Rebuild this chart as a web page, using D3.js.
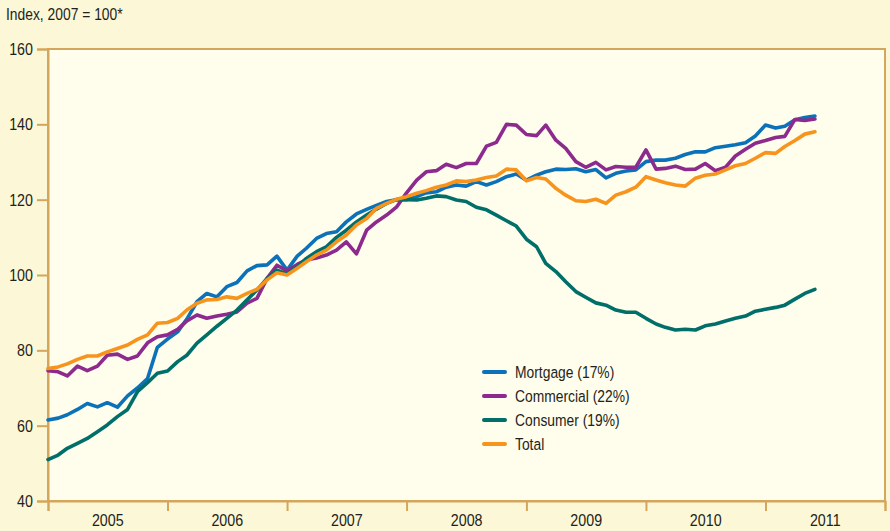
<!DOCTYPE html>
<html>
<head>
<meta charset="utf-8">
<script src="https://cdn.jsdelivr.net/npm/d3@7/dist/d3.min.js"></script>
<style>
  body { margin: 0; background: #fcf7d6; }
  svg { display: block; }
  text { font-family: "Liberation Sans", Arial, sans-serif; fill: #231f20; }
</style>
</head>
<body>
<div id="chart"></div>
<script>
// monthly index values, Jan 2005 .. Jun 2011 (2007 = 100)
var mortgage = [61.5,62.0,62.9,64.3,65.9,65.0,66.1,64.9,67.9,70.0,
  72.5,80.8,83.0,84.9,88.3,92.9,95.1,94.2,96.9,98.0,
  101.1,102.5,102.7,105.0,101.3,105.0,107.1,109.7,111.0,111.5,
  114.1,116.2,117.4,118.5,119.5,120.0,120.0,120.8,121.8,122.1,
  123.3,123.9,123.6,124.8,123.9,124.8,126.1,126.8,125.2,126.5,
  127.4,128.1,128.0,128.2,127.4,128.0,125.8,127.0,127.6,127.9,
  130.1,130.5,130.5,131.0,132.0,132.7,132.7,133.8,134.2,134.6,
  135.1,136.9,139.8,139.0,139.5,141.2,141.8,142.2];

var commercial = [74.6,74.3,73.2,75.8,74.6,75.8,78.7,79.0,77.6,78.5,
  82.0,83.6,84.1,85.6,87.8,89.4,88.5,89.1,89.6,90.2,
  92.5,93.8,99.1,102.6,101.1,102.8,104.0,104.5,105.3,106.6,
  108.8,105.6,111.9,114.1,115.9,118.0,121.8,125.2,127.4,127.7,
  129.4,128.5,129.6,129.6,134.2,135.2,140.0,139.8,137.3,137.0,
  139.8,135.8,133.6,130.1,128.6,129.9,127.9,128.8,128.6,128.6,
  133.2,128.1,128.3,128.9,128.0,128.1,129.6,127.7,128.6,131.6,
  133.4,135.0,135.7,136.5,136.8,141.3,141.0,141.4];

var consumer = [51.0,52.2,54.0,55.3,56.6,58.4,60.2,62.4,64.3,69.0,
  71.4,73.9,74.5,77.0,78.7,81.9,84.1,86.4,88.5,90.7,
  93.4,96.0,99.1,101.3,100.3,102.2,104.4,106.2,107.5,110.0,
  111.9,114.1,115.9,117.5,119.0,120.0,120.0,119.9,120.4,121.0,
  120.8,119.9,119.5,118.0,117.3,115.9,114.4,113.0,109.5,107.5,
  103.1,100.9,98.2,95.6,94.1,92.6,92.0,90.7,90.1,90.1,
  88.5,87.0,86.1,85.4,85.6,85.4,86.5,87.0,87.8,88.5,
  89.1,90.4,90.9,91.4,92.0,93.6,95.1,96.2];

var total = [75.2,75.6,76.4,77.6,78.5,78.5,79.6,80.5,81.4,82.9,
  84.1,87.2,87.4,88.5,90.7,92.5,93.4,93.5,94.2,93.8,
  95.1,96.2,98.7,100.6,100.0,101.8,103.5,105.3,106.6,108.8,
  110.6,113.3,115.0,117.7,119.0,120.1,120.8,121.7,122.4,123.3,
  123.9,125.0,124.8,125.2,125.9,126.3,128.1,127.9,125.0,125.9,
  125.5,123.0,121.2,119.7,119.5,120.1,119.0,121.2,122.1,123.3,
  126.1,125.2,124.5,123.9,123.6,125.7,126.5,126.8,127.9,129.0,
  129.6,131.0,132.5,132.3,134.1,135.7,137.4,138.0];

var seriesNames = ["Mortgage (17%)", "Commercial (22%)", "Consumer (19%)", "Total"];
var seriesColors = ["#0b72b9", "#8c2a8d", "#006e69", "#f7941d"];
var years = [2005, 2006, 2007, 2008, 2009, 2010, 2011];
var yTicks = [40, 60, 80, 100, 120, 140, 160];
var startYear = 2005;

var W = 890, H = 531;
var margin = {top: 49, right: 5, bottom: 30, left: 48};
var axisColor = "#d4a65c";
var squeeze = 0.84; // the original uses a condensed face

var svg = d3.select("#chart").append("svg")
    .attr("width", W)
    .attr("height", H);

// narrow the text horizontally around its own anchor
function condense(sel) {
    sel.each(function() {
        var t = d3.select(this);
        var tx = +t.attr("x") || 0;
        t.attr("x", 0).attr("transform", "translate(" + tx + ",0) scale(" + squeeze + ",1)");
    });
}

var x = d3.scaleTime()
    .domain([new Date(2005, 0, 1), new Date(2012, 0, 1)])
    .range([margin.left, W - margin.right]);

var y = d3.scaleLinear()
    .domain([40, 160])
    .range([H - margin.bottom, margin.top]);

// plot background + frame
svg.append("rect")
    .attr("x", x.range()[0])
    .attr("y", y(160))
    .attr("width", x.range()[1] - x.range()[0])
    .attr("height", y(40) - y(160))
    .attr("fill", "#fffdeb")
    .attr("stroke", axisColor)
    .attr("stroke-width", 2);

// y axis
var yAxis = svg.append("g")
    .attr("transform", "translate(" + x.range()[0] + ",0)")
    .call(d3.axisLeft(y).tickValues(yTicks).tickSize(11).tickPadding(4).tickFormat(d3.format("d")));
yAxis.select(".domain").attr("stroke", axisColor).attr("stroke-width", 2);
yAxis.selectAll(".tick line").attr("stroke", axisColor).attr("stroke-width", 2);
yAxis.selectAll(".tick text").attr("font-size", 17).attr("fill", "#231f20")
    .style("font-family", "'Liberation Sans', Arial, sans-serif")
    .call(condense);

// x axis: year boundaries as ticks, labels centred in each year
var yearEdges = d3.range(startYear, 2013).map(function(yr) { return new Date(yr, 0, 1); });
var xAxis = svg.append("g")
    .attr("transform", "translate(0," + y(40) + ")")
    .call(d3.axisBottom(x).tickValues(yearEdges).tickSize(10).tickFormat(""));
xAxis.select(".domain").attr("stroke", axisColor).attr("stroke-width", 2);
xAxis.selectAll(".tick line").attr("stroke", axisColor).attr("stroke-width", 2);

var xLabels = svg.append("g")
    .attr("transform", "translate(0," + y(40) + ")")
    .call(d3.axisBottom(x)
        .tickValues(years.map(function(yr) { return new Date(yr, 6, 1); }))
        .tickSize(0).tickPadding(13)
        .tickFormat(d3.timeFormat("%Y")));
xLabels.select(".domain").remove();
xLabels.selectAll(".tick text").attr("font-size", 17).attr("fill", "#231f20")
    .style("font-family", "'Liberation Sans', Arial, sans-serif")
    .call(condense);

// title
svg.append("text")
    .attr("x", 6)
    .attr("y", 20)
    .attr("font-size", 16.5)
    .text("Index, 2007 = 100*")
    .call(condense);

// lines
var allSeries = [mortgage, commercial, consumer, total];
var line = d3.line()
    .x(function(d, i) { return x(new Date(startYear, i, 1)); })
    .y(function(d) { return y(d); });

for (var s = 0; s < allSeries.length; s++) {
    svg.append("path")
        .datum(allSeries[s])
        .attr("d", line)
        .attr("fill", "none")
        .attr("stroke", seriesColors[s])
        .attr("stroke-width", 3.6)
        .attr("stroke-linejoin", "round")
        .attr("stroke-linecap", "round");
}

// legend
var legend = svg.append("g").attr("transform", "translate(484,372)");
seriesNames.forEach(function(name, i) {
    var row = legend.append("g").attr("transform", "translate(0," + (i * 24) + ")");
    row.append("line")
        .attr("x1", 0).attr("x2", 21)
        .attr("y1", 0).attr("y2", 0)
        .attr("stroke", seriesColors[i])
        .attr("stroke-width", 4)
        .attr("stroke-linecap", "round");
    row.append("text")
        .attr("x", 31)
        .attr("y", 0)
        .attr("dy", "0.36em")
        .attr("font-size", 16.5)
        .text(name)
        .call(condense);
});
</script>
</body>
</html>
